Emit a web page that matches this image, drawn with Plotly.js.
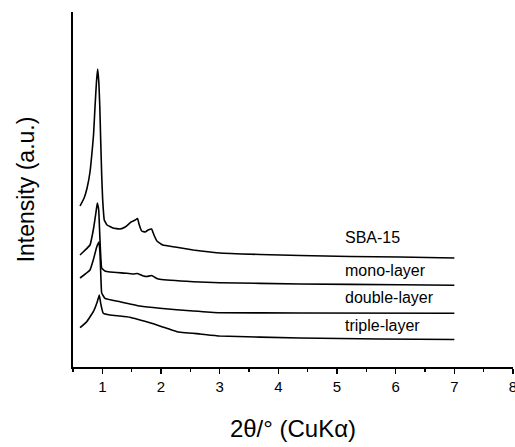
<!DOCTYPE html>
<html>
<head>
<meta charset="utf-8">
<script src="https://cdn.plot.ly/plotly-3.0.1.min.js"></script>
<style>html,body{margin:0;padding:0;background:#fff;}#chart{width:515px;height:447px;}</style>
</head>
<body>
<div id="chart"></div>
<script>
// 2theta (deg) and intensity (arbitrary units, stacked offsets as in the figure)
const sbaX = [0.62,0.69,0.74,0.79,0.82,0.85,0.875,0.90,0.92,0.94,0.957,0.972,0.989,1.006,1.033,1.08,1.18,1.30,1.39,1.49,1.56,1.60,1.625,1.67,1.73,1.78,1.84,1.88,1.93,2.03,2.24,2.55,3.0,3.69,4.37,5.22,6.07,7.0];
const sbaY = [161,169,179,195,212,232,260,285,298,285,260,227,192,167,147,142,139,138,140,145,147,148.5,143,136,135,137,138,132,126,122,120,117,114,112.5,111.5,110.5,110,109];

const monoX = [0.62,0.69,0.79,0.846,0.89,0.914,0.938,0.96,0.989,1.045,1.13,1.415,1.53,1.60,1.70,1.76,1.84,1.93,1.98,2.55,3.0,4.37,6.07,7.0];
const monoY = [112,116,122,137,154,164,157,127,99,96,95,93.7,93,93.5,91,90.5,91.5,88.5,87.7,85.3,84.3,83,82.3,81.7];

const doubleX = [0.62,0.79,0.846,0.904,0.943,0.96,0.977,0.989,1.045,1.30,1.64,1.98,2.55,3.0,4.37,7.0];
const doubleY = [89,97,107,120,125,114,87,74,68.7,65.3,61,58.7,56,54.3,54,53.7];

const tripleX = [0.62,0.734,0.846,0.914,0.948,0.972,1.016,1.13,1.30,1.47,1.64,1.81,1.93,2.10,2.27,2.67,3.0,4.37,5.73,7.0];
const tripleY = [39.3,45.3,55.3,65.3,72,63.7,53.7,52,51,49.7,47,44.3,42,38.7,35.3,33,31,29,28,27.5];

const labels = ["SBA-15","mono-layer","double-layer","triple-layer"];
const labelX = 5.1;
const labelY = [130, 97, 70, 42];

const font = "Arial, 'Liberation Sans', sans-serif";
const series = [[sbaX,sbaY],[monoX,monoY],[doubleX,doubleY],[tripleX,tripleY]];
const traces = series.map((s,i)=>({
  x: s[0], y: s[1], type:'scatter', mode:'lines', name: labels[i],
  line:{color:'#000', width:1.6, shape:'spline', smoothing:0.3}, hoverinfo:'skip'
}));

const annotations = labels.map((t,i)=>({
  x: labelX, y: labelY[i], xref:'x', yref:'y', text:t, showarrow:false,
  xanchor:'left', yanchor:'middle', font:{family:font, size:16, color:'#000'}
}));

const layout = {
  width:515, height:447,
  margin:{l:73, r:2, t:12, b:80},
  paper_bgcolor:'#fff', plot_bgcolor:'#fff',
  showlegend:false,
  font:{family:font, color:'#000'},
  xaxis:{
    range:[0.5,8], dtick:1, tick0:0, ticks:'outside', ticklen:5, tickwidth:1.2, tickcolor:'#000',
    showline:true, linecolor:'#000', linewidth:1.6, showgrid:false, zeroline:false,
    ticklabeloverflow:'allow',
    tickfont:{family:font, size:15, color:'#000'},
    minor:{dtick:0.5, ticks:'outside', ticklen:3, tickwidth:1.2, tickcolor:'#000', showgrid:false},
    title:{text:'2θ/° (CuKα)', font:{family:font, size:24, color:'#000'}, standoff:26}
  },
  yaxis:{
    range:[0,355], showticklabels:false, ticks:'', showline:true, linecolor:'#000', linewidth:1.6,
    showgrid:false, zeroline:false,
    title:{text:'Intensity (a.u.)', font:{family:font, size:23, color:'#000'}, standoff:30}
  },
  annotations: annotations
};

Plotly.newPlot('chart', traces, layout, {staticPlot:true, displayModeBar:false});
</script>
</body>
</html>
